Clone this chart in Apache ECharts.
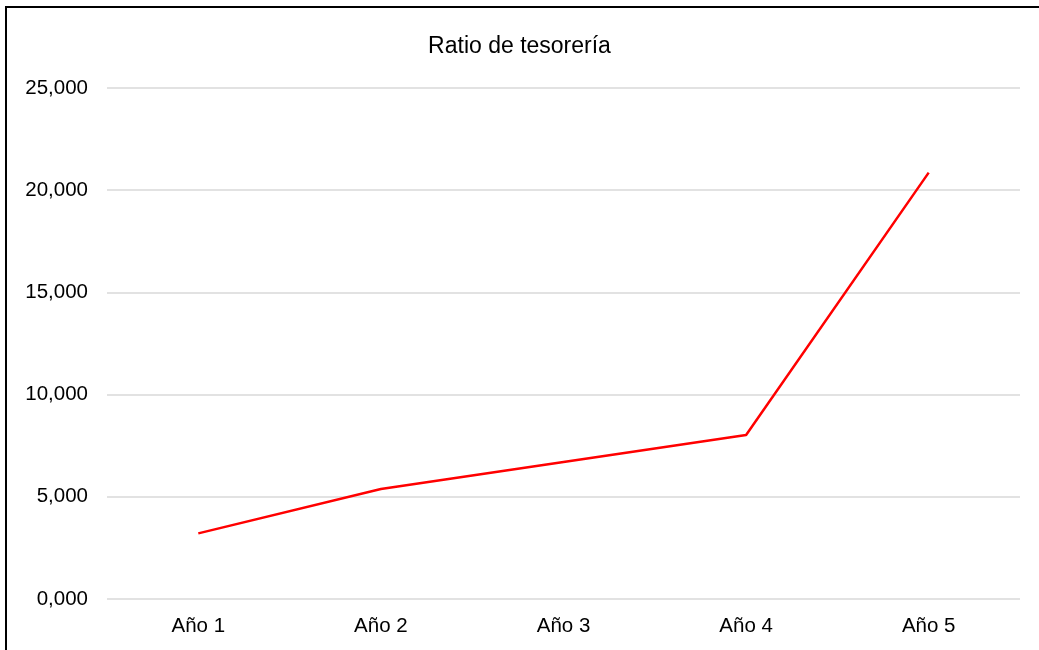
<!DOCTYPE html>
<html lang="es">
<head>
    <meta charset="UTF-8">
    <title>Ratio de tesorería</title>
    <script src="https://cdn.jsdelivr.net/npm/echarts@6/dist/echarts.min.js"></script>
    <style>
        html, body { margin: 0; padding: 0; background: #fff; }
        #main { width: 1039px; height: 650px; }
    </style>
</head>
<body>
<div id="main"></div>
<script>
    // datos
    const years = ['Año 1', 'Año 2', 'Año 3', 'Año 4', 'Año 5'];
    const ratio = [3.21, 5.38, 6.70, 8.02, 20.86];
    const yTicks = [0, 5, 10, 15, 20, 25];

    const chart = echarts.init(document.getElementById('main'), null, { renderer: 'canvas' });

    // formato español: coma decimal, 3 decimales
    function fmt(v) {
        return v.toFixed(3).replace('.', ',');
    }

    const option = {
        animation: false,
        textStyle: { fontFamily: 'Liberation Sans, Arial, sans-serif' },
        graphic: [{
            type: 'rect',
            shape: { x: 6, y: 7, width: 1200, height: 800 },
            style: { fill: 'none', stroke: '#000', lineWidth: 2 },
            silent: true
        }],
        title: {
            text: 'Ratio de tesorería',
            left: 'center',
            top: 30,
            textStyle: { fontSize: 23, fontWeight: 'normal', color: '#000' }
        },
        grid: { left: 107, right: 19, top: 88, bottom: 51 },
        xAxis: {
            type: 'category',
            data: years,
            boundaryGap: true,
            axisLine: { show: false },
            axisTick: { show: false },
            axisLabel: { color: '#000', fontSize: 20.5, margin: 17 }
        },
        yAxis: {
            type: 'value',
            min: yTicks[0],
            max: yTicks[yTicks.length - 1],
            interval: yTicks[1] - yTicks[0],
            axisLine: { show: false },
            axisTick: { show: false },
            axisLabel: { color: '#000', fontSize: 20.5, margin: 19, formatter: fmt },
            splitLine: { lineStyle: { color: '#d9d9d9', width: 1.5 } }
        },
        series: [{
            type: 'line',
            data: ratio,
            showSymbol: false,
            lineStyle: { color: '#ff0000', width: 2.5 },
            itemStyle: { color: '#ff0000' }
        }]
    };

    chart.setOption(option);
</script>
</body>
</html>
